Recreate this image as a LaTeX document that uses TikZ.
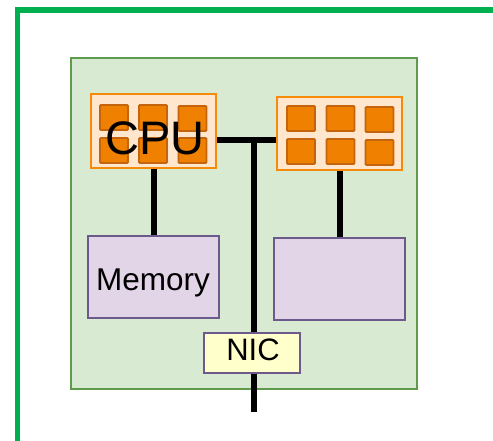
\documentclass[tikz,border=0pt]{standalone}
\usepackage{fontspec}
\setmainfont{Liberation Sans}
\definecolor{frameG}{HTML}{00B050}
\definecolor{boardF}{HTML}{D9EAD3}
\definecolor{boardD}{HTML}{5F9A4D}
\definecolor{cpuF}{HTML}{FFE6CC}
\definecolor{cpuD}{HTML}{F58A0B}
\definecolor{coreF}{HTML}{F08000}
\definecolor{coreD}{HTML}{C4650D}
\definecolor{memF}{HTML}{E1D5E7}
\definecolor{memD}{HTML}{6C5A8C}
\definecolor{nicF}{HTML}{FFFFCC}
\tikzset{
  cpubox/.style={draw=cpuD, fill=cpuF, line width=2.5pt, minimum width=125pt, minimum height=74pt, inner sep=0pt},
  corebox/.style={draw=coreD, fill=coreF, line width=1.8pt, rounded corners=1pt, minimum width=28pt, minimum height=25pt, inner sep=0pt},
  membox/.style={draw=memD, fill=memF, line width=2.5pt, minimum width=131pt, minimum height=82pt, inner sep=0pt},
  nicbox/.style={draw=memD, fill=nicF, line width=2.5pt, minimum width=96pt, minimum height=40pt, inner sep=0pt},
  wire/.style={line width=6pt, black},
  lbl/.style={inner sep=0pt, anchor=base}
}
\begin{document}
\begin{tikzpicture}[x=1pt,y=-1pt]
\useasboundingbox (0,0) rectangle (493,440);
% outer frame
\draw[frameG, line width=5.5pt] (17.5,470) -- (17.5,10) -- (520,10);
% board
\node[draw=boardD, fill=boardF, line width=2.5pt, minimum width=346pt, minimum height=331pt, inner sep=0pt] (board) at (244,223.5) {};
% coordinates
\coordinate (bus) at (254,140);
\coordinate (tail) at (254,412);
% CPUs
\node[cpubox] (cpu1) at (153.5,131) {};
\node[cpubox, minimum height=73pt] (cpu2) at (339.5,133.5) {};
% cores cpu1
\node[corebox] (c11) at (114,117.5) {};
\node[corebox] (c12) at (153,117.5) {};
\node[corebox] (c13) at (192.5,118.5) {};
\node[corebox] (c14) at (114,150.5) {};
\node[corebox] (c15) at (153,150.5) {};
\node[corebox] (c16) at (192.5,150.5) {};
% cores cpu2
\node[corebox] (c21) at (301,118.5) {};
\node[corebox] (c22) at (340.5,118.5) {};
\node[corebox] (c23) at (379.5,119.5) {};
\node[corebox] (c24) at (301,151.5) {};
\node[corebox] (c25) at (340.5,151.5) {};
\node[corebox] (c26) at (379.5,152.5) {};
\node[lbl] (cpulbl) at (155,154) {\fontsize{47}{47}\selectfont CPU};
% memory
\node[membox] (mem1) at (153.5,277) {};
\node[membox] (mem2) at (339.5,279) {};
\node[lbl] (memlbl) at (153,290) {\fontsize{31.5}{31.5}\selectfont Memory};
% NIC
\node[nicbox] (nic) at (252,353) {};
\node[lbl] (niclbl) at (253,360) {\fontsize{31}{31}\selectfont NIC};
% wires
\draw[wire] (bus -| cpu1.east) -- (bus -| cpu2.west);
\draw[wire] (bus) -- (bus |- nic.north);
\draw[wire] (tail |- nic.south) -- (tail);
\draw[wire] (cpu1.south) -- (mem1.north);
\draw[wire] (cpu2.south) -- (mem2.north);
\end{tikzpicture}
\end{document}
